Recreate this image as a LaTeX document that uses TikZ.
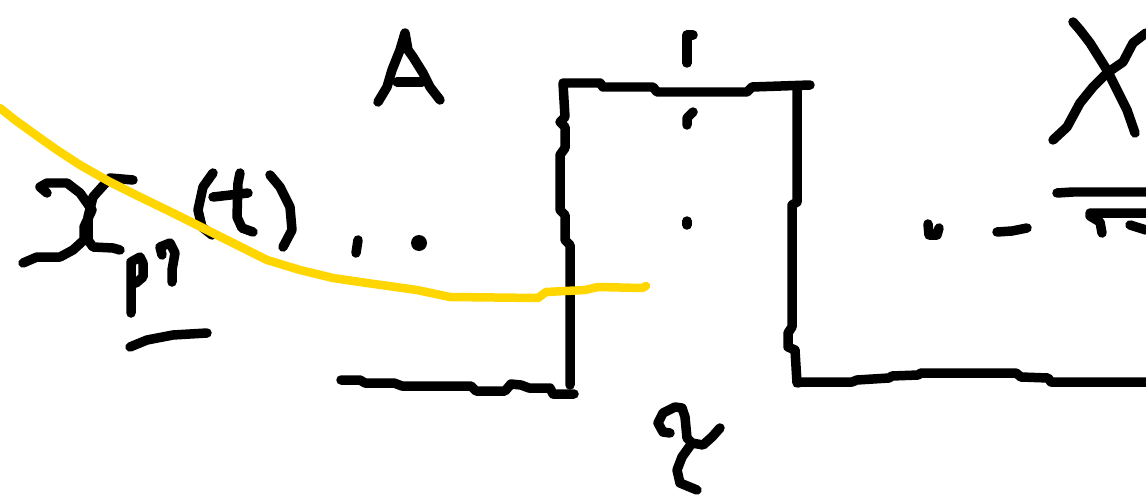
\documentclass[tikz,border=0pt]{standalone}
\usepackage{xcolor}
\definecolor{marker}{RGB}{255,214,0}
\begin{document}
\begin{tikzpicture}[x=0.02cm, y=-0.02cm,
  ink/.style={line width=0.19cm, line cap=round, line join=round, black},
  hilite/.style={line width=0.17cm, line cap=round, line join=round, marker}]
  \useasboundingbox (0,0) rectangle (1146,500);
  % box and floor
  \draw[ink] (570,385) -- (570,245) -- (565,240) -- (565,215) -- (560,210) -- (560,155)
    -- (565,148) -- (565,127) -- (560,122) -- (565,117) -- (563,83) -- (600,83) -- (603,87)
    -- (653,87) -- (657,92) -- (747,92) -- (752,87) -- (810,85);
  \draw[ink] (797,90) -- (797,202) -- (792,205) -- (792,327) -- (788,333) -- (788,347)
    -- (795,350) -- (797,383) -- (802,382) -- (852,382) -- (857,380) -- (889,378)
    -- (892,376) -- (918,375) -- (921,373) -- (1016,373) -- (1021,377) -- (1048,378)
    -- (1051,382) -- (1146,382);
  \draw[ink] (341,380) -- (360,380) -- (365,383) -- (394,383) -- (402,386) -- (471,386)
    -- (476,391) -- (505,391) -- (511,384) -- (521,385) -- (529,388) -- (550,388)
    -- (553,394) -- (574,394);
  % marks on the box
  \draw[ink] (687,63) -- (687,35) -- (693,35);
  \draw[ink] (693,112) -- (687,118) -- (687,125);
  \draw[ink] (687,221) -- (687,225);
  % gamma below
  \draw[ink] (670,433) -- (663,432) -- (658,423) -- (663,413) -- (675,407) -- (682,408)
    -- (685,417) -- (687,438) -- (692,443) -- (703,445) -- (712,437) -- (720,428);
  \draw[ink] (692,443) -- (682,457) -- (677,470) -- (680,483) -- (697,490);
  % A
  \draw[ink] (378,102) -- (387,87) -- (392,70) -- (400,50) -- (405,33) -- (408,50)
    -- (413,57) -- (423,73) -- (430,87) -- (440,100);
  \draw[ink] (397,82) -- (422,82);
  % X_p(t) ..
  \draw[ink] (47,193) -- (40,187) -- (47,183) -- (67,183) -- (80,193) -- (92,210)
    -- (84,227) -- (84,240) -- (73,250) -- (60,257) -- (37,257) -- (23,263);
  \draw[ink] (133,180) -- (110,178) -- (93,197) -- (88,217) -- (88,240) -- (93,247)
    -- (113,248) -- (120,250);
  \draw[ink] (131,313) -- (131,262) -- (140,257) -- (143,263) -- (143,277) -- (136,283)
    -- (131,283);
  \draw[ink] (162,255) -- (160,247) -- (170,243) -- (175,253) -- (172,270) -- (172,282);
  \draw[ink] (130,347) -- (147,340) -- (173,335) -- (207,333);
  \draw[ink] (213,173) -- (203,187) -- (198,210) -- (202,227) -- (212,235);
  \draw[ink] (240,173) -- (238,183) -- (237,217) -- (242,228) -- (253,232);
  \draw[ink] (213,197) -- (248,193);
  \draw[ink] (270,175) -- (280,187) -- (290,207) -- (292,230) -- (283,247);
  \draw[ink] (358,240) -- (356,253);
  \fill (419,243) circle (8);
  % X on the right
  \draw[ink] (1073,22) -- (1080,30) -- (1090,43) -- (1107,70) -- (1117,90) -- (1127,110)
    -- (1135,133);
  \draw[ink] (1053,140) -- (1067,127) -- (1080,103) -- (1093,87) -- (1107,73)
    -- (1123,62) -- (1133,43) -- (1146,33);
  \draw[ink] (1057,193) -- (1073,192) -- (1146,192);
  \draw[ink] (1102,233) -- (1100,222) -- (1090,216) -- (1090,213) -- (1146,213);
  \draw[ink] (1130,225) -- (1146,230);
  \draw[ink] (928,224) -- (929,235) -- (937,235) -- (939,228);
  \draw[ink] (997,232) -- (1012,231) -- (1027,228);
  % highlighter
  \draw[hilite] (0,108) -- (15,120) -- (40,138) -- (57,150) -- (80,165) -- (110,182)
    -- (140,197) -- (173,213) -- (207,230) -- (233,243) -- (267,260) -- (300,270)
    -- (333,278) -- (367,283) -- (417,290) -- (450,297) -- (538,298) -- (546,292)
    -- (585,290) -- (598,287) -- (642,288) -- (646,286);
\end{tikzpicture}
\end{document}
